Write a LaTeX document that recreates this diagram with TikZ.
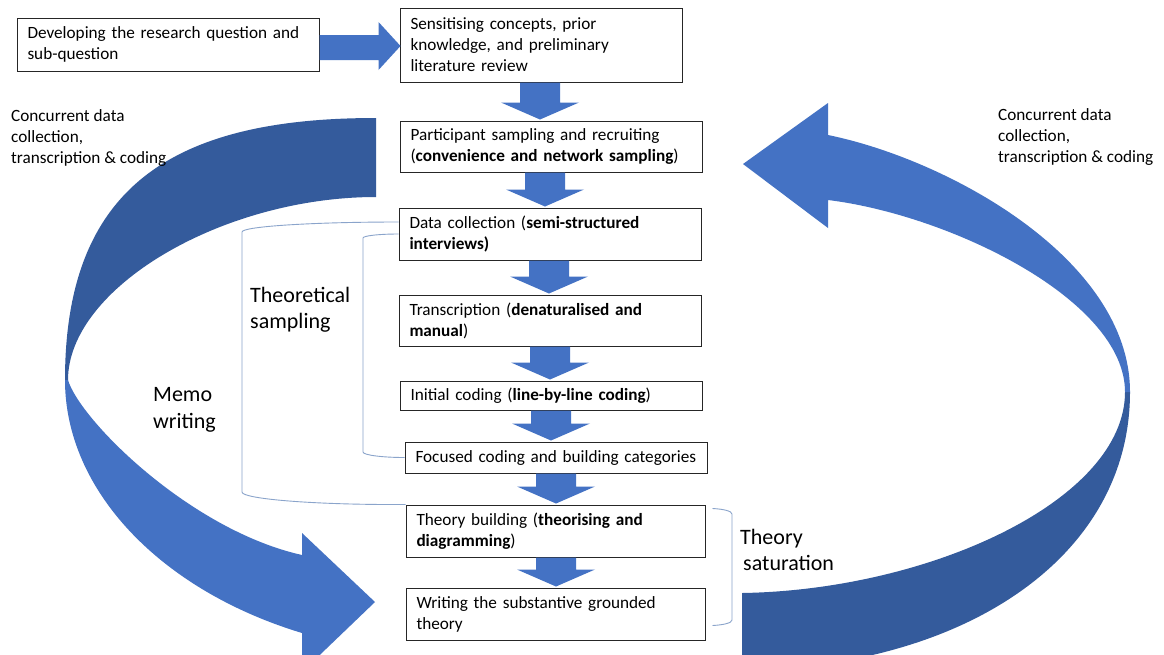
\documentclass[tikz,border=0pt]{standalone}
\usepackage{fontspec}
\setmainfont{Carlito}
\usetikzlibrary{calc}

\definecolor{flowblue}{HTML}{4472C4}
\definecolor{backblue}{HTML}{345B9C}
\definecolor{bracketblue}{HTML}{8AA4CB}
\definecolor{boxline}{HTML}{262626}

\newcommand\boxfont{\fontsize{17.2pt}{21pt}\selectfont}
\newcommand\labelfont{\fontsize{22pt}{26.5pt}\selectfont}

% block arrow pointing down from the bottom of #1 to the top of #2, centred on x = #3
\newcommand\stepdown[3]{%
  \fill[flow] let \p1=(#1.south), \p2=(#2.north) in
    ({#3pt-20pt},\y1) -- ({#3pt+20pt},\y1) -- ({#3pt+20pt},\y2+18pt)
    -- ({#3pt+39pt},\y2+18pt) -- (#3pt,\y2+1pt) -- ({#3pt-39pt},\y2+18pt)
    -- ({#3pt-20pt},\y2+18pt) -- cycle;}

\tikzset{
  box/.style={draw=boxline, line width=1pt, fill=white, inner xsep=10.5pt,
    inner ysep=0pt, align=left, font=\boxfont},
  flow/.style={fill=flowblue},
  back/.style={fill=backblue},
  brace/.style={draw=bracketblue, line width=0.9pt},
  sidetext/.style={inner sep=0pt, align=left, font=\boxfont, anchor=west},
  bigtext/.style={inner sep=0pt, align=left, font=\labelfont, anchor=west},
}

\begin{document}
\begin{tikzpicture}[x=1pt, y=-1pt]
\useasboundingbox (0,0) rectangle (1164,654);
\clip (0,0) rectangle (1164,654);
\fill[white] (0,0) rectangle (1164,654);

% ribbon arrows: back halves first, front halves over them
\fill[back] (376,118) .. controls (175,118) and (65,185) .. (65,380)
  -- (68,380) .. controls (68,288) and (222,197) .. (376,197) -- cycle;
\fill[flow] (65,380) .. controls (65,490) and (160,590) .. (302,633)
  -- (302,672) -- (375,602) -- (302,533) -- (302,555)
  .. controls (190,530) and (80,420) .. (68,380) -- cycle;

\fill[back] (1125,392) .. controls (1125,500) and (930,590) .. (742,593)
  -- (742,670) .. controls (960,668) and (1130,560) .. (1130,392) -- cycle;
\fill[flow] (828,135) .. controls (950,160) and (1130,260) .. (1130,392)
  -- (1125,392) .. controls (1125,300) and (950,215) .. (828,200)
  -- (828,228) -- (743,164) -- (828,103) -- cycle;

% process boxes
\node[box, text width=281pt, minimum height=53pt] (b0) at (168,44.5)
  {Developing the research question and\\sub-question};
\node[box, text width=261pt, minimum height=74pt] (b1) at (541,45)
  {Sensitising concepts, prior\\knowledge, and preliminary\\literature review};
\node[box, text width=281pt, minimum height=51pt] (b2) at (551,146.5)
  {Participant sampling and recruiting\\(\textbf{convenience and network sampling})};
\node[box, text width=281pt, minimum height=52pt] (b3) at (550,234)
  {Data collection (\textbf{semi-structured}\\\textbf{interviews)}};
\node[box, text width=281pt, minimum height=51pt] (b4) at (550,320.5)
  {Transcription (\textbf{denaturalised and}\\\textbf{manual})};
\node[box, text width=281pt, minimum height=29pt] (b5) at (551,395.5)
  {Initial coding (\textbf{line-by-line coding})};
\node[box, text width=281pt, minimum height=31pt] (b6) at (556,457.5)
  {Focused coding and building categories};
\node[box, text width=278pt, minimum height=52pt] (b7) at (555.5,531)
  {Theory building (\textbf{theorising and}\\\textbf{diagramming})};
\node[box, text width=278pt, minimum height=52pt] (b8) at (555.5,614)
  {Writing the substantive grounded\\theory};

% arrows between the steps
\fill[flow] let \p1=(b0.east), \p2=(b1.west) in
  (\x1,\y1+9.5pt) -- (\x2-21pt,\y1+9.5pt) -- (\x2-21pt,\y1+22.5pt)
  -- (\x2+1pt,\y1-1.5pt) -- (\x2-21pt,\y1-25.5pt) -- (\x2-21pt,\y1-15.5pt)
  -- (\x1,\y1-15.5pt) -- cycle;
\stepdown{b1}{b2}{540}
\stepdown{b2}{b3}{545}
\stepdown{b3}{b4}{549}
\stepdown{b4}{b5}{550}
\stepdown{b5}{b6}{551}
\stepdown{b6}{b7}{556}
\stepdown{b7}{b8}{556}

% brackets
\draw[brace] ($(b3.west)+(0,-12)$) .. controls (312,222) and (242,226.5) .. (242,232)
  -- (242,492) .. controls (242,499) and (315,505) .. (b7.north west);
\draw[brace] (b3.west) .. controls (379,234) and (363,235.8) .. (363,238)
  -- (363,452) .. controls (363,455) and (382,457.5) .. (b6.west);
\draw[brace] ($(b7.north east)+(7,4)$) .. controls (723,509) and (732,511) .. (732,514)
  -- (732,620) .. controls (732,623) and (723,625) .. ($(b8.south east)+(7,-15)$);

% labels
\node[sidetext] (lc) at (11,138) {Concurrent data\\collection,\\transcription \& coding};
\node[sidetext] (rc) at (998,137) {Concurrent data\\collection,\\transcription \& coding};
\node[bigtext] (ts) at (250,309.5) {Theoretical\\sampling};
\node[bigtext] (mw) at (153,410) {Memo\\writing};
\node[bigtext] (sat) at (740,550) {Theory\\\hspace{3pt}saturation};
\end{tikzpicture}
\end{document}
